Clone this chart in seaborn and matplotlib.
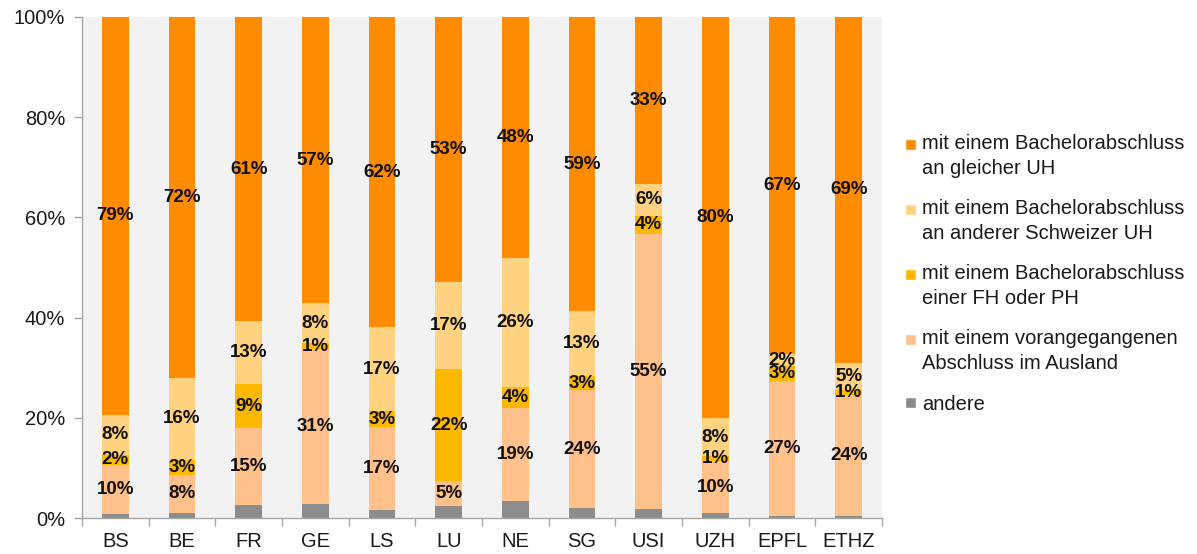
import pandas as pd
import matplotlib
matplotlib.use('Agg')
import matplotlib.pyplot as plt
import seaborn as sns
from matplotlib.patches import Patch, Rectangle
from matplotlib.legend_handler import HandlerPatch

# Data (percent of students per university)
unis = ['BS', 'BE', 'FR', 'GE', 'LS', 'LU', 'NE', 'SG', 'USI', 'UZH', 'EPFL', 'ETHZ']
andere = [0.7, 1.0, 2.6, 2.7, 1.6, 2.4, 3.3, 1.9, 1.7, 0.9, 0.3, 0.3]
ausland = [9.9, 7.6, 15.4, 31.0, 16.6, 4.9, 18.7, 23.6, 55.0, 10.4, 27.0, 24.3]
fh_ph = [2.0, 3.0, 8.7, 1.2, 3.1, 22.4, 4.1, 2.8, 3.6, 1.0, 3.0, 1.0]
andere_uh = [8.0, 16.4, 12.6, 8.0, 16.8, 17.4, 25.8, 13.0, 6.4, 7.7, 2.4, 5.4]
gleiche_uh = [79.4, 72.0, 60.7, 57.1, 61.9, 52.9, 48.1, 58.7, 33.3, 80.0, 67.3, 69.0]

series_names = ['mit einem Bachelorabschluss\nan gleicher UH',
                'mit einem Bachelorabschluss\nan anderer Schweizer UH',
                'mit einem Bachelorabschluss\neiner FH oder PH',
                'mit einem vorangegangenen\nAbschluss im Ausland',
                'andere']
colors = ['#FF8C00', '#FFD27F', '#FFB800', '#FFC08A', '#8C8C8C']

df = pd.DataFrame({'Uni': unis, 'andere': andere, 'ausland': ausland, 'fh': fh_ph,
                   'andere_uh': andere_uh, 'gleiche_uh': gleiche_uh})
layers = ['andere', 'ausland', 'fh', 'andere_uh', 'gleiche_uh']   # bottom -> top
layer_colors = dict(zip(layers, colors[::-1]))
cum = df[layers].cumsum(axis=1)

sns.set_theme(style='white')
plt.rcParams['font.family'] = ['Liberation Sans', 'DejaVu Sans']

fig = plt.figure(figsize=(11.97, 5.54), dpi=100)
ax = fig.add_axes([82 / 1197, 1 - 518 / 554, 800 / 1197, 501 / 554])
ax.set_facecolor('#F2F2F2')

# stacked bars: draw the cumulative totals from the top layer down
for layer in layers[::-1]:
    sns.barplot(x=df['Uni'], y=cum[layer], color=layer_colors[layer], saturation=1,
                width=0.4, ax=ax, linewidth=0)

# segment labels
for i in range(len(df)):
    for layer in layers[1:]:
        v = df.loc[i, layer]
        bottom = cum.loc[i, layer] - v
        ax.text(i, bottom + v / 2, f'{round(v)}%', ha='center', va='center',
                fontsize=13.5, fontweight='bold', color='#111111')

ax.set_ylim(0, 100)
ax.set_xlim(-0.5, len(unis) - 0.5)
ax.set_yticks(range(0, 101, 20))
ax.set_yticklabels([f'{t}%' for t in range(0, 101, 20)])
ax.set_xticks(range(len(unis)))
ax.set_xticklabels(unis)
ax.set_xticks([i - 0.5 for i in range(len(unis) + 1)], minor=True)
ax.set_xlabel('')
ax.set_ylabel('')
for s in ['top', 'right']:
    ax.spines[s].set_visible(False)
for s in ['left', 'bottom']:
    ax.spines[s].set_color('#A6A6A6')
    ax.spines[s].set_linewidth(1)
ax.tick_params(axis='y', which='major', length=6, color='#A6A6A6', width=1,
               labelsize=14.5, labelcolor='#1a1a1a', pad=6, left=True)
ax.tick_params(axis='x', which='major', length=0, labelsize=14.5, labelcolor='#1a1a1a', pad=10)
ax.tick_params(axis='x', which='minor', length=6, color='#A6A6A6', width=1, bottom=True)


# legend: small squares aligned with the first text line
def square(legend, orig_handle, xdescent, ydescent, width, height, fontsize):
    size = 7.7
    y = -ydescent + height / 2 - size / 2
    if '\n' in orig_handle.get_label():
        y += 0.6 * fontsize
    return Rectangle((-xdescent, y), size, size)


handles = [Patch(facecolor=c, label=n) for c, n in zip(colors, series_names)]
leg = fig.legend(handles=handles, loc='upper left', bbox_to_anchor=(905 / 1197, 1 - 134 / 554),
                 frameon=False, fontsize=14.5, borderpad=0, borderaxespad=0,
                 handlelength=0.53, handleheight=0.7, handletextpad=0.3, labelspacing=1.05,
                 handler_map={Patch: HandlerPatch(patch_func=square)})
for t in leg.get_texts():
    t.set_linespacing(1.4)
    t.set_color('#1a1a1a')

fig.savefig('out.png', dpi=100)
